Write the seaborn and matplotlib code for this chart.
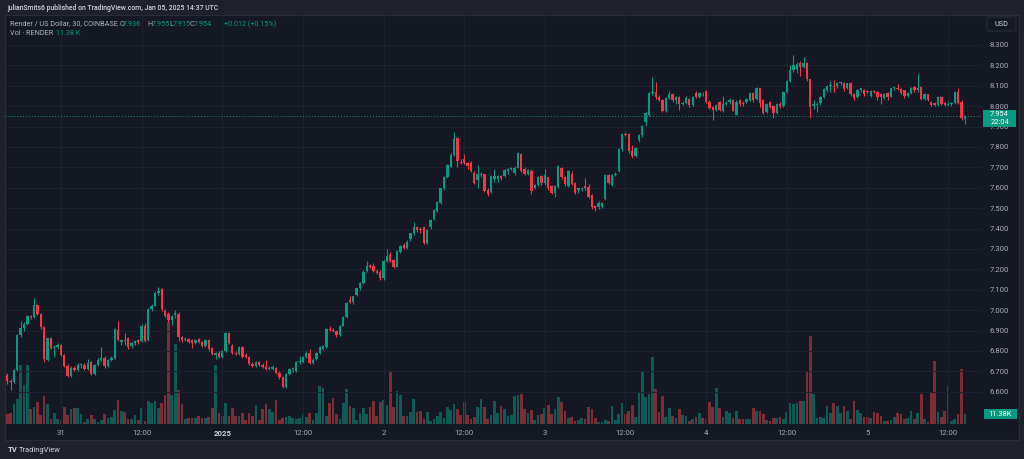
import numpy as np
import pandas as pd
import matplotlib
matplotlib.use("Agg")
import matplotlib.pyplot as plt
from matplotlib.patches import Rectangle, FancyBboxPatch
import seaborn as sns

# ---------------- data (RENDER/USD, 30 min candles, Dec 30 16:00 -> Jan 05 14:30) -------------
opens = [
 6.68, 6.655, 6.65, 6.707, 6.878, 6.914, 6.93, 6.97, 6.965, 7.025,
 6.98, 6.916, 6.756, 6.865, 6.813, 6.82, 6.83, 6.78, 6.728, 6.679,
 6.718, 6.707, 6.73, 6.732, 6.71, 6.744, 6.686, 6.73, 6.756, 6.767,
 6.726, 6.756, 6.767, 6.903, 6.845, 6.854, 6.865, 6.825, 6.84, 6.852,
 6.849, 6.92, 6.854, 7.006, 7.022, 7.083, 7.102, 6.998, 6.98, 6.95,
 6.975, 6.981, 6.87, 6.855, 6.86, 6.855, 6.84, 6.86, 6.845, 6.825,
 6.854, 6.813, 6.778, 6.79, 6.77, 6.80, 6.89, 6.825, 6.79, 6.785,
 6.82, 6.78, 6.77, 6.738, 6.727, 6.745, 6.73, 6.72, 6.712, 6.71,
 6.715, 6.694, 6.671, 6.625, 6.687, 6.71, 6.70, 6.745, 6.745, 6.772,
 6.789, 6.74, 6.76, 6.79, 6.81, 6.82, 6.91, 6.905, 6.90, 6.878,
 6.923, 6.968, 7.05, 7.04, 7.075, 7.107, 7.135, 7.19, 7.22, 7.218,
 7.19, 7.189, 7.156, 7.241, 7.27, 7.245, 7.213, 7.287, 7.32, 7.305,
 7.35, 7.377, 7.406, 7.397, 7.406, 7.33, 7.41, 7.447, 7.488, 7.524,
 7.598, 7.655, 7.704, 7.761, 7.843, 7.728, 7.74, 7.72, 7.723, 7.671,
 7.637, 7.665, 7.666, 7.59, 7.58, 7.645, 7.645, 7.66, 7.66, 7.68,
 7.69, 7.674, 7.699, 7.766, 7.69, 7.67, 7.684, 7.60, 7.614, 7.658,
 7.622, 7.651, 7.609, 7.576, 7.606, 7.696, 7.651, 7.61, 7.67, 7.625,
 7.59, 7.595, 7.61, 7.606, 7.565, 7.51, 7.505, 7.505, 7.544, 7.663,
 7.615, 7.665, 7.68, 7.789, 7.864, 7.865, 7.78, 7.755, 7.834, 7.859,
 7.924, 7.957, 8.063, 8.071, 8.044, 8.03, 7.977, 8.04, 8.06, 8.03,
 8.046, 8.013, 8.015, 8.036, 8.007, 8.067, 8.046, 8.062, 8.075, 8.022,
 7.995, 7.98, 8.02, 7.977, 8.013, 8.02, 8.032, 7.957, 8.03, 8.015,
 8.02, 8.03, 8.064, 8.034, 8.088, 8.03, 7.973, 8.02, 8.0, 7.965,
 8.013, 8.0, 8.071, 8.125, 8.177, 8.18, 8.213, 8.19, 8.21, 8.132,
 8.0, 8.008, 8.014, 8.044, 8.08, 8.098, 8.1, 8.1, 8.114, 8.112,
 8.09, 8.112, 8.058, 8.044, 8.08, 8.08, 8.072, 8.05, 8.074, 8.07,
 8.06, 8.04, 8.064, 8.047, 8.088, 8.091, 8.085, 8.077, 8.05, 8.064,
 8.093, 8.077, 8.093, 8.037, 8.058, 8.02, 8.014, 8.004, 8.044, 8.014,
 8.004, 8.01, 8.018, 8.071, 8.022, 7.936]

highs = [
 6.69, 6.665, 6.71, 6.885, 6.947, 6.94, 6.975, 6.975, 7.06, 7.03,
 6.985, 6.92, 6.865, 6.87, 6.83, 6.84, 6.835, 6.785, 6.735, 6.725,
 6.725, 6.74, 6.74, 6.74, 6.76, 6.75, 6.735, 6.765, 6.82, 6.775,
 6.76, 6.775, 6.915, 6.945, 6.86, 6.89, 6.87, 6.845, 6.855, 6.86,
 6.93, 6.935, 7.01, 7.03, 7.09, 7.115, 7.11, 7.005, 6.99, 6.975,
 7.0, 6.99, 6.875, 6.87, 6.865, 6.86, 6.86, 6.865, 6.85, 6.86,
 6.86, 6.82, 6.795, 6.80, 6.805, 6.895, 6.895, 6.835, 6.80, 6.825,
 6.825, 6.79, 6.775, 6.745, 6.75, 6.75, 6.74, 6.755, 6.725, 6.73,
 6.72, 6.70, 6.675, 6.69, 6.715, 6.72, 6.75, 6.775, 6.775, 6.80,
 6.81, 6.765, 6.795, 6.825, 6.83, 6.915, 6.92, 6.912, 6.905, 6.925,
 6.97, 7.04, 7.07, 7.07, 7.11, 7.14, 7.195, 7.24, 7.225, 7.23,
 7.20, 7.195, 7.245, 7.30, 7.285, 7.25, 7.295, 7.32, 7.33, 7.345,
 7.38, 7.43, 7.415, 7.41, 7.41, 7.40, 7.445, 7.495, 7.535, 7.60,
 7.66, 7.715, 7.77, 7.875, 7.85, 7.74, 7.765, 7.725, 7.73, 7.68,
 7.71, 7.675, 7.67, 7.60, 7.665, 7.69, 7.665, 7.665, 7.69, 7.695,
 7.70, 7.705, 7.775, 7.77, 7.70, 7.69, 7.69, 7.62, 7.66, 7.665,
 7.69, 7.655, 7.615, 7.615, 7.71, 7.70, 7.66, 7.685, 7.68, 7.63,
 7.60, 7.605, 7.65, 7.62, 7.57, 7.515, 7.535, 7.53, 7.67, 7.67,
 7.67, 7.675, 7.795, 7.87, 7.875, 7.87, 7.81, 7.80, 7.865, 7.91,
 7.97, 8.07, 8.142, 8.12, 8.055, 8.035, 8.045, 8.075, 8.065, 8.05,
 8.05, 8.025, 8.05, 8.04, 8.05, 8.075, 8.07, 8.07, 8.08, 8.03,
 8.0, 8.01, 8.025, 8.05, 8.025, 8.04, 8.035, 8.03, 8.035, 8.025,
 8.04, 8.07, 8.07, 8.095, 8.09, 8.035, 8.015, 8.025, 8.005, 8.015,
 8.02, 8.075, 8.13, 8.2, 8.25, 8.215, 8.22, 8.24, 8.215, 8.135,
 8.03, 8.02, 8.05, 8.09, 8.105, 8.125, 8.13, 8.12, 8.125, 8.12,
 8.115, 8.12, 8.065, 8.085, 8.09, 8.085, 8.08, 8.08, 8.08, 8.075,
 8.065, 8.065, 8.07, 8.09, 8.10, 8.11, 8.09, 8.08, 8.07, 8.095,
 8.10, 8.16, 8.10, 8.065, 8.06, 8.025, 8.02, 8.05, 8.05, 8.02,
 8.02, 8.02, 8.075, 8.09, 8.03, 7.955]

lows = [
 6.64, 6.61, 6.645, 6.70, 6.87, 6.90, 6.925, 6.955, 6.96, 6.975,
 6.91, 6.745, 6.75, 6.81, 6.77, 6.81, 6.775, 6.72, 6.67, 6.67,
 6.70, 6.70, 6.715, 6.705, 6.705, 6.68, 6.68, 6.725, 6.75, 6.715,
 6.72, 6.75, 6.76, 6.85, 6.83, 6.83, 6.81, 6.815, 6.83, 6.835,
 6.845, 6.845, 6.85, 6.995, 7.02, 7.075, 6.995, 6.965, 6.94, 6.925,
 6.96, 6.85, 6.845, 6.85, 6.84, 6.815, 6.835, 6.84, 6.82, 6.82,
 6.80, 6.78, 6.76, 6.765, 6.765, 6.795, 6.835, 6.785, 6.78, 6.78,
 6.765, 6.765, 6.73, 6.72, 6.72, 6.725, 6.715, 6.705, 6.705, 6.705,
 6.685, 6.665, 6.62, 6.62, 6.68, 6.695, 6.695, 6.735, 6.74, 6.765,
 6.735, 6.735, 6.755, 6.785, 6.805, 6.815, 6.90, 6.895, 6.87, 6.875,
 6.92, 6.96, 7.035, 7.03, 7.07, 7.10, 7.13, 7.185, 7.205, 7.185,
 7.175, 7.15, 7.15, 7.235, 7.235, 7.205, 7.21, 7.28, 7.30, 7.30,
 7.34, 7.37, 7.385, 7.38, 7.325, 7.325, 7.40, 7.44, 7.48, 7.52,
 7.59, 7.65, 7.70, 7.755, 7.70, 7.715, 7.715, 7.69, 7.675, 7.62,
 7.60, 7.655, 7.58, 7.56, 7.575, 7.63, 7.63, 7.64, 7.655, 7.67,
 7.685, 7.665, 7.695, 7.675, 7.665, 7.665, 7.57, 7.595, 7.61, 7.615,
 7.615, 7.59, 7.57, 7.555, 7.60, 7.645, 7.61, 7.605, 7.615, 7.57,
 7.575, 7.585, 7.59, 7.55, 7.495, 7.485, 7.495, 7.50, 7.54, 7.62,
 7.61, 7.66, 7.675, 7.78, 7.855, 7.77, 7.745, 7.75, 7.825, 7.85,
 7.905, 7.95, 8.055, 8.035, 8.025, 7.97, 7.97, 8.035, 8.02, 8.01,
 7.98, 8.005, 8.01, 7.995, 8.0, 8.04, 8.04, 8.05, 8.015, 7.985,
 7.93, 7.975, 7.975, 7.97, 8.005, 8.01, 7.975, 7.955, 8.0, 8.0,
 8.015, 8.025, 8.02, 8.03, 7.995, 7.96, 7.965, 7.99, 7.94, 7.96,
 7.99, 7.995, 8.065, 8.12, 8.17, 8.165, 8.15, 8.185, 8.125, 7.94,
 7.985, 7.97, 8.005, 8.04, 8.07, 8.07, 8.07, 8.09, 8.105, 8.075,
 8.085, 8.05, 8.03, 8.04, 8.07, 8.05, 8.065, 8.045, 8.065, 8.03,
 8.01, 8.035, 8.03, 8.045, 8.08, 8.08, 8.06, 8.04, 8.045, 8.06,
 8.07, 8.07, 8.03, 8.03, 8.025, 8.0, 8.0, 8.0, 8.005, 8.0,
 8.0, 8.0, 8.01, 8.01, 7.93, 7.915]

closes = [
 6.655, 6.65, 6.707, 6.878, 6.914, 6.93, 6.97, 6.965, 7.025, 6.98,
 6.916, 6.76, 6.862, 6.813, 6.82, 6.83, 6.78, 6.728, 6.679, 6.718,
 6.707, 6.73, 6.732, 6.71, 6.74, 6.686, 6.73, 6.756, 6.767, 6.726,
 6.756, 6.767, 6.908, 6.854, 6.854, 6.85, 6.82, 6.84, 6.85, 6.843,
 6.92, 6.849, 7.006, 7.02, 7.086, 7.096, 7.004, 6.97, 6.95, 6.97,
 6.985, 6.87, 6.855, 6.86, 6.845, 6.84, 6.856, 6.845, 6.825, 6.853,
 6.81, 6.785, 6.788, 6.77, 6.80, 6.89, 6.84, 6.79, 6.785, 6.82,
 6.77, 6.77, 6.735, 6.727, 6.745, 6.73, 6.72, 6.712, 6.715, 6.72,
 6.69, 6.671, 6.625, 6.687, 6.71, 6.716, 6.745, 6.752, 6.772, 6.79,
 6.74, 6.757, 6.79, 6.82, 6.825, 6.91, 6.905, 6.90, 6.878, 6.92,
 6.968, 7.034, 7.04, 7.068, 7.107, 7.135, 7.189, 7.218, 7.21, 7.19,
 7.18, 7.156, 7.241, 7.266, 7.24, 7.212, 7.29, 7.315, 7.305, 7.335,
 7.377, 7.406, 7.395, 7.393, 7.33, 7.395, 7.44, 7.49, 7.532, 7.598,
 7.655, 7.712, 7.761, 7.838, 7.733, 7.722, 7.72, 7.705, 7.684, 7.625,
 7.67, 7.67, 7.586, 7.57, 7.658, 7.658, 7.66, 7.647, 7.685, 7.69,
 7.695, 7.699, 7.769, 7.68, 7.67, 7.685, 7.586, 7.615, 7.655, 7.622,
 7.665, 7.598, 7.576, 7.61, 7.708, 7.651, 7.617, 7.68, 7.62, 7.576,
 7.597, 7.60, 7.597, 7.557, 7.507, 7.50, 7.525, 7.525, 7.663, 7.625,
 7.663, 7.668, 7.789, 7.864, 7.86, 7.78, 7.755, 7.795, 7.859, 7.904,
 7.965, 8.063, 8.07, 8.044, 8.03, 7.977, 8.04, 8.06, 8.03, 8.046,
 8.013, 8.016, 8.04, 8.007, 8.046, 8.046, 8.067, 8.058, 8.022, 7.99,
 7.98, 8.006, 7.98, 8.013, 8.018, 8.03, 7.977, 8.022, 8.01, 8.012,
 8.035, 8.064, 8.03, 8.088, 8.018, 7.965, 8.01, 7.995, 7.965, 8.013,
 8.0, 8.071, 8.125, 8.177, 8.2, 8.207, 8.19, 8.21, 8.132, 7.998,
 8.01, 8.012, 8.047, 8.083, 8.1, 8.1, 8.096, 8.114, 8.117, 8.083,
 8.112, 8.058, 8.04, 8.08, 8.087, 8.06, 8.07, 8.074, 8.07, 8.047,
 8.044, 8.06, 8.047, 8.088, 8.091, 8.083, 8.064, 8.048, 8.064, 8.09,
 8.077, 8.09, 8.037, 8.058, 8.03, 8.004, 8.004, 8.044, 8.012, 8.004,
 8.012, 8.014, 8.071, 8.014, 7.94, 7.954]

volumes_k = [
 11.3, 13.2, 23.4, 29.3, 69.0, 45.6, 69.0, 17.2, 20.2, 25.4,
 10.5, 32.8, 23.4, 5.5, 12.5, 5.5, 4.7, 19.5, 10.5, 17.6,
 18.4, 18.4, 11.3, 2.7, 5.5, 10.5, 5.5, 2.7, 4.7, 11.3,
 7.4, 7.8, 16.4, 28.1, 15.6, 13.7, 5.5, 5.5, 10.5, 4.7,
 18.4, 3.5, 26.9, 24.9, 26.9, 19.1, 24.9, 33.9, 119.3, 33.9,
 93.6, 39.8, 23.4, 5.5, 6.7, 7.4, 7.4, 9.4, 7.4, 7.4,
 8.5, 19.1, 69.0, 13.2, 9.4, 24.9, 9.4, 18.4, 9.4, 9.4,
 13.2, 4.7, 12.9, 9.4, 22.2, 4.7, 17.6, 23.0, 17.6, 13.7,
 28.1, 4.7, 7.4, 8.5, 9.4, 6.7, 5.9, 6.7, 11.7, 7.8,
 12.5, 4.7, 12.5, 44.5, 42.5, 9.4, 24.2, 30.8, 11.3, 5.9,
 24.2, 41.0, 21.1, 18.4, 4.7, 13.2, 19.1, 11.7, 19.5, 26.9,
 9.4, 26.1, 28.1, 22.2, 62.0, 20.2, 38.6, 33.9, 9.4, 9.4,
 14.0, 29.3, 14.4, 15.2, 5.9, 14.4, 3.9, 5.9, 9.4, 14.4,
 7.4, 19.5, 16.4, 23.4, 17.6, 10.5, 25.7, 10.5, 5.9, 8.5,
 19.5, 29.3, 20.2, 5.5, 10.5, 26.9, 13.2, 21.1, 17.6, 9.4,
 10.5, 32.8, 33.9, 35.1, 17.6, 13.2, 16.4, 4.7, 10.5, 11.7,
 19.1, 22.2, 11.7, 17.6, 31.2, 25.4, 15.2, 7.4, 8.5, 3.9,
 4.7, 7.4, 5.5, 20.2, 17.6, 7.4, 2.7, 2.7, 4.7, 3.9,
 21.1, 4.7, 11.7, 24.2, 11.7, 15.6, 21.9, 7.8, 35.9, 62.4,
 31.2, 34.7, 78.0, 41.0, 14.4, 32.8, 8.5, 19.1, 9.4, 6.7,
 17.2, 10.5, 9.4, 3.9, 5.9, 8.5, 12.5, 6.7, 5.5, 25.4,
 20.2, 41.8, 19.1, 7.8, 15.2, 13.2, 7.4, 15.2, 5.5, 5.5,
 5.5, 5.9, 18.4, 15.2, 15.2, 11.3, 4.7, 3.9, 7.4, 7.4,
 7.8, 5.5, 14.4, 24.9, 23.0, 24.2, 26.9, 26.9, 61.2, 103.0,
 35.1, 7.4, 7.8, 7.4, 21.1, 13.2, 24.2, 21.4, 12.5, 21.1,
 15.2, 5.9, 26.9, 16.4, 12.5, 7.8, 7.8, 6.7, 14.4, 13.2,
 9.4, 3.9, 3.9, 4.7, 8.5, 12.5, 11.3, 5.5, 7.4, 15.2,
 5.9, 12.5, 35.1, 5.5, 2.7, 36.6, 73.7, 14.4, 8.5, 15.6,
 44.5, 3.9, 5.5, 11.7, 64.0, 11.38]

time_tick_pos = [16, 40, 64, 88, 112, 136, 160, 184, 208, 232, 256, 280]
time_tick_labels = ["31", "12:00", "2025", "12:00", "2", "12:00", "3", "12:00",
                    "4", "12:00", "5", "12:00"]
price_ticks = [6.6, 6.7, 6.8, 6.9, 7.0, 7.1, 7.2, 7.3, 7.4, 7.5, 7.6, 7.7, 7.8,
               7.9, 8.0, 8.1, 8.2, 8.3]
last_price = 7.954
last_volume_label = "11.38K"

# ---------------- style ----------------
OUTER = "#1e2129"
PANE = "#141823"
GRID = "#1e2230"
BORDER = "#2a2e39"
TXT = "#a9acb5"
UP = "#089981"
DOWN = "#f23645"
VUP = "#0f5a54"
VDN = "#7d2d36"

sns.set_theme(style="dark")
plt.rcParams["font.family"] = ["Roboto", "DejaVu Sans"]

W, H = 1024, 459
fig = plt.figure(figsize=(W / 100, H / 100), dpi=100, facecolor=OUTER)
renderer = fig.canvas.get_renderer()


def fx(x):
    return x / W


def fy(y):
    return 1 - y / H


def fit_text(xl, y, s, width_px, color, **kw):
    """Place left-aligned text whose rendered width matches width_px."""
    t = fig.text(fx(xl), fy(y), s, color=color, fontsize=10, ha="left", va="center", **kw)
    w = t.get_window_extent(renderer).width
    t.set_fontsize(10 * width_px / w)
    return t


# pane background
fig.patches.append(Rectangle((fx(5), fy(440)), fx(1019) - fx(5), fy(15) - fy(440),
                             transform=fig.transFigure, facecolor=PANE,
                             edgecolor=BORDER, lw=0.8, zorder=-1))

n = len(closes)
idx = np.arange(n)
o = np.array(opens)
c = np.array(closes)
hi = np.maximum(np.array(highs), np.maximum(o, c))
lo = np.minimum(np.array(lows), np.minimum(o, c))
up = c >= o

x0, x1 = -0.65, 290.1
y0, y1 = 6.442, 8.447
rect = [fx(5), fy(424), fx(982) - fx(5), fy(15) - fy(424)]

# volume axes (underneath)
axv = fig.add_axes(rect)
axv.set_facecolor("none")
df = pd.DataFrame({"i": idx, "vol": volumes_k, "dir": np.where(up, "up", "down")})
sns.barplot(data=df, x="i", y="vol", hue="dir", palette={"up": VUP, "down": VDN},
            native_scale=True, dodge=False, width=0.8, errorbar=None, legend=False,
            saturation=1, linewidth=0, ax=axv)
axv.set_xlim(x0, x1)
axv.set_ylim(0, 478)
axv.axis("off")

# price axes
ax = fig.add_axes(rect)
ax.set_facecolor("none")
for s in ax.spines.values():
    s.set_visible(False)
ax.set_xlim(x0, x1)
ax.set_ylim(y0, y1)
ax.set_axisbelow(True)
ax.grid(True, color=GRID, lw=0.8)

cols = np.where(up, UP, DOWN)
ax.vlines(idx, lo, hi, colors=cols, lw=0.8, zorder=3)
body = c - o
body = np.where(np.abs(body) < 0.004, np.where(up, 0.004, -0.004), body)
ax.bar(idx, body, bottom=o, width=0.7, color=cols, linewidth=0, zorder=4)

ax.axhline(last_price, color=UP, lw=0.7, ls=(0, (1, 2)), zorder=2)

ax.yaxis.tick_right()
ax.set_yticks(price_ticks)
ax.set_yticklabels([f"{p:.3f}" for p in price_ticks])
ax.set_xticks(time_tick_pos)
ax.set_xticklabels(time_tick_labels)
ax.tick_params(axis="y", length=0, pad=5.5, labelsize=5.6, labelcolor=TXT)
ax.tick_params(axis="x", length=0, pad=4.5, labelsize=5.6, labelcolor=TXT)
for t in ax.get_xticklabels():
    if t.get_text() == "2025":
        t.set_fontweight("bold")
        t.set_color("#d1d4dc")
ax.set_xlabel("")
ax.set_ylabel("")

# ---------------- header texts ----------------
fit_text(7, 8.5, "julianSmits6 published on TradingView.com, Jan 05, 2025 14:37 UTC",
         214, "#d1d4dc", fontweight="medium")
t2 = fit_text(10, 24, "Render / US Dollar, 30, COINBASE", 107, "#b2b5be")
fs2 = t2.get_fontsize()
segs = [(119.5, "O", TXT), (122.5, "7.936", UP), (147.5, "H", TXT), (151.5, "7.955", UP),
        (169.5, "L", TXT), (172.5, "7.915", UP), (190, "C", TXT), (193.5, "7.954", UP),
        (224, "+0.012 (+0.15%)", UP)]
for xx, s, col in segs:
    fig.text(fx(xx), fy(24), s, color=col, fontsize=fs2, ha="left", va="center")
fig.text(fx(10), fy(33.5), "Vol · RENDER", color="#b2b5be", fontsize=fs2, ha="left",
         va="center")
fig.text(fx(56), fy(33.5), "11.38 K", color=UP, fontsize=fs2, ha="left", va="center")

# USD box
fig.patches.append(FancyBboxPatch((fx(987), fy(31)), fx(1016) - fx(987), fy(17) - fy(31),
                                  boxstyle="round,pad=0,rounding_size=0.003",
                                  transform=fig.transFigure, facecolor=PANE,
                                  edgecolor=BORDER, lw=0.8, zorder=5))
fig.text(fx(1001.5), fy(24), "USD", color="#d1d4dc", fontsize=5.2, ha="center", va="center",
         zorder=6)

# last price box
fig.patches.append(Rectangle((fx(983), fy(127)), fx(1016) - fx(983), fy(110) - fy(127),
                             transform=fig.transFigure, facecolor=UP, edgecolor="none",
                             zorder=5))
fig.text(fx(999.5), fy(114.5), "7.954", color="white", fontsize=5.4, ha="center",
         va="center", zorder=6)
fig.text(fx(999.5), fy(122.5), "22:04", color="white", fontsize=5.4, ha="center",
         va="center", zorder=6)

# volume label box
fig.patches.append(Rectangle((fx(984), fy(419)), fx(1017) - fx(984), fy(409) - fy(419),
                             transform=fig.transFigure, facecolor=UP, edgecolor="none",
                             zorder=5))
fig.text(fx(1000.5), fy(414), last_volume_label, color="white", fontsize=5.4, ha="center",
         va="center", zorder=6)

# footer logo
fig.text(fx(8), fy(450), "TV", color="#d1d4dc", fontsize=5.6, fontweight="bold",
         ha="left", va="center")
fig.text(fx(19), fy(450), "TradingView", color="#d1d4dc", fontsize=5.4, ha="left",
         va="center")

fig.savefig("out.png", dpi=100, facecolor=OUTER)
